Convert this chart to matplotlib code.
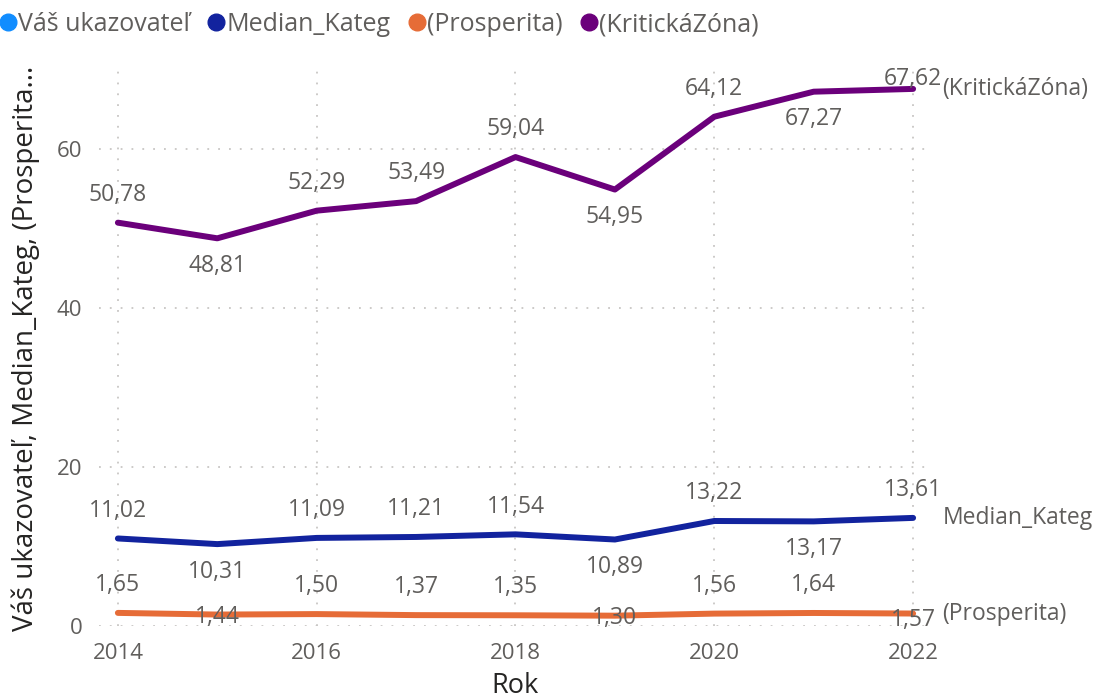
import matplotlib.pyplot as plt
from matplotlib.lines import Line2D

plt.rcParams['font.family'] = ['Open Sans', 'DejaVu Sans']

years = [2014, 2015, 2016, 2017, 2018, 2019, 2020, 2021, 2022]
kriticka = [50.78, 48.81, 52.29, 53.49, 59.04, 54.95, 64.12, 67.27, 67.62]
median_kateg = [11.02, 10.31, 11.09, 11.21, 11.54, 10.89, 13.22, 13.17, 13.61]
prosperita = [1.65, 1.44, 1.50, 1.37, 1.35, 1.30, 1.56, 1.64, 1.57]

# label placement: 1 above, -1 below, 0 on the line
pos_krit = [1, -1, 1, 1, 1, -1, 1, -1, 0.35]
pos_med = [1, -1, 1, 1, 1, -1, 1, -1, 1]
pos_pros = [1, -0.1, 1, 1, 1, -0.1, 1, 1, -0.25]

series_names = ['Váš ukazovateľ', 'Median_Kateg', '(Prosperita)', '(KritickáZóna)']
colors = ['#118DFF', '#12239E', '#E66C37', '#6B007B']
label_gray = '#605E5C'

fig = plt.figure(figsize=(10.93, 7.0), dpi=100)
ax = fig.add_axes([99 / 1093, 1 - 626 / 700, 831 / 1093, 556 / 700])

for vals, col, pos, name in [(kriticka, colors[3], pos_krit, series_names[3]),
                             (median_kateg, colors[1], pos_med, series_names[1]),
                             (prosperita, colors[2], pos_pros, series_names[2])]:
    ax.plot(years, vals, color=col, lw=4.3, solid_capstyle='round', zorder=3)
    for x, y, p in zip(years, vals, pos):
        ax.annotate(f'{y:.2f}'.replace('.', ','), (x, y), xytext=(0, 20 * p),
                    textcoords='offset points', ha='center', va='center',
                    fontsize=16.5, color=label_gray, zorder=4)
    ax.annotate(name, (years[-1], vals[-1]), xytext=(21, 0),
                textcoords='offset points', ha='left', va='center',
                fontsize=16.5, color=label_gray, annotation_clip=False)

ax.set_xlim(2013.81, 2022.17)
ax.set_ylim(0, 70)
ax.set_xticks([2014, 2016, 2018, 2020, 2022])
ax.set_yticks([0, 20, 40, 60])
ax.tick_params(length=0, labelsize=16, colors=label_gray, pad=12)
ax.grid(True, color='#C8C6C4', linestyle=(0, (1, 5)), lw=1.3)
for s in ax.spines.values():
    s.set_visible(False)

ax.set_xlabel('Rok', fontsize=19.5, color='#252423', labelpad=6)
ax.set_ylabel('Váš ukazovateľ, Median_Kateg, (Prosperita...', fontsize=20,
              color='#252423', labelpad=12)

handles = [Line2D([], [], marker='o', ls='', color=c, markersize=12) for c in colors]
fig.legend(handles, series_names, loc='upper left', bbox_to_anchor=(-0.02, 1.015),
           ncol=4, frameon=False, fontsize=18, handlelength=0.6,
           handletextpad=0.1, columnspacing=0.75, labelcolor=label_gray)

fig.savefig('out.png', dpi=100)
